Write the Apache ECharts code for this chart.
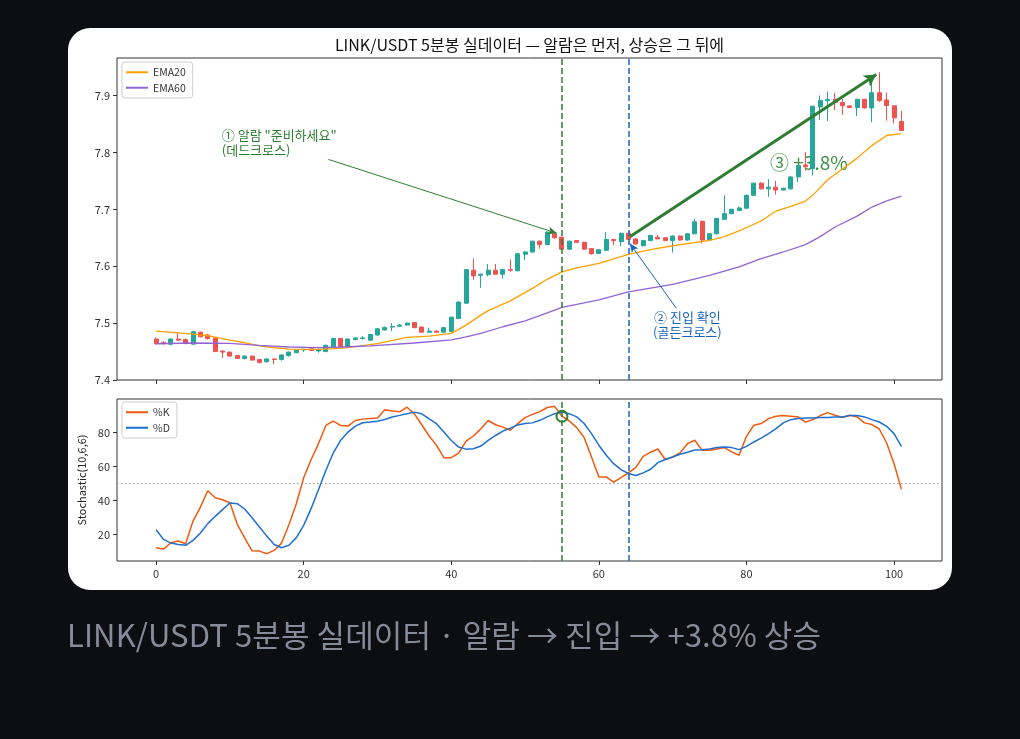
<!DOCTYPE html>
<html>
<head>
<meta charset="utf-8">
<script src="https://cdn.jsdelivr.net/npm/echarts@6/dist/echarts.min.js"></script>
<style>
  html, body { margin: 0; padding: 0; background: #0c0e11; }
  #card { position: absolute; left: 68px; top: 28px; width: 884px; height: 562px; background: #fff; border-radius: 22px; }
  #chart { position: absolute; left: 0; top: 0; width: 1020px; height: 739px; }
  #caption { position: absolute; left: 67px; top: 615px; font: 31px "Noto Sans CJK KR", sans-serif; line-height: 38px; color: #858b98; white-space: nowrap; letter-spacing: 0.1px; }
</style>
</head>
<body>
<div id="card"></div>
<div id="chart"></div>
<div id="caption">LINK/USDT 5분봉 실데이터 · 알람 → 진입 → +3.8% 상승</div>
<script>
const FONT = '"Noto Sans CJK KR", "Noto Sans", sans-serif'
const UP = '#26a69a'
const DOWN = '#ef5350'

// 5m candles, index 0..101
const opens = [7.472,7.466,7.463,7.472,7.471,7.463,7.484,7.479,7.474,7.451,
  7.449,7.443,7.438,7.442,7.436,7.432,7.437,7.436,7.443,7.448,
  7.453,7.455,7.451,7.450,7.458,7.473,7.458,7.471,7.473,7.470,
  7.479,7.488,7.493,7.4945,7.4965,7.501,7.493,7.484,7.486,7.484,
  7.485,7.508,7.535,7.593,7.584,7.585,7.593,7.586,7.594,7.592,
  7.621,7.625,7.644,7.638,7.657,7.651,7.630,7.645,7.642,7.631,
  7.6225,7.628,7.647,7.643,7.658,7.648,7.636,7.645,7.651,7.650,
  7.645,7.653,7.646,7.657,7.679,7.646,7.657,7.6825,7.6925,7.698,
  7.702,7.7246,7.746,7.736,7.739,7.734,7.736,7.757,7.778,7.7714,
  7.880,7.891,7.8935,7.8877,7.8818,7.879,7.8935,7.8783,7.905,7.8923,
  7.882,7.8544]
const closes = [7.464,7.464,7.472,7.470,7.464,7.485,7.476,7.473,7.450,7.449,
  7.442,7.438,7.442,7.435,7.431,7.437,7.436,7.444,7.449,7.453,
  7.454,7.452,7.453,7.461,7.473,7.458,7.472,7.474,7.474,7.480,
  7.490,7.4925,7.494,7.4965,7.500,7.492,7.484,7.486,7.484,7.492,
  7.5105,7.537,7.594,7.583,7.586,7.593,7.586,7.594,7.593,7.622,
  7.625,7.644,7.638,7.660,7.650,7.630,7.644,7.642,7.630,7.622,
  7.629,7.647,7.645,7.658,7.647,7.639,7.645,7.654,7.648,7.645,
  7.653,7.646,7.657,7.678,7.646,7.657,7.684,7.6924,7.700,7.7025,
  7.7246,7.746,7.736,7.739,7.734,7.737,7.757,7.777,7.775,7.8813,
  7.8912,7.8935,7.8877,7.882,7.879,7.8935,7.8783,7.905,7.8912,7.8825,
  7.8608,7.8386]
const lows = [7.462,7.462,7.461,7.469,7.463,7.462,7.475,7.471,7.449,7.439,
  7.441,7.437,7.436,7.434,7.429,7.431,7.428,7.434,7.441,7.447,
  7.449,7.451,7.448,7.449,7.457,7.457,7.457,7.470,7.471,7.469,
  7.478,7.487,7.486,7.494,7.496,7.491,7.483,7.483,7.483,7.483,
  7.484,7.507,7.534,7.576,7.562,7.582,7.585,7.578,7.590,7.591,
  7.611,7.624,7.631,7.637,7.648,7.629,7.628,7.641,7.629,7.620,
  7.621,7.627,7.637,7.635,7.646,7.638,7.635,7.644,7.648,7.644,
  7.624,7.645,7.645,7.656,7.640,7.645,7.656,7.682,7.691,7.697,
  7.701,7.724,7.735,7.722,7.726,7.733,7.735,7.748,7.768,7.7596,
  7.857,7.855,7.874,7.866,7.878,7.864,7.877,7.853,7.889,7.856,
  7.851,7.838]
const highs = [7.475,7.468,7.473,7.484,7.473,7.486,7.485,7.481,7.475,7.452,
  7.450,7.444,7.443,7.443,7.437,7.438,7.438,7.445,7.450,7.454,
  7.455,7.456,7.455,7.462,7.474,7.474,7.473,7.475,7.477,7.481,
  7.491,7.494,7.500,7.498,7.501,7.502,7.494,7.492,7.487,7.493,
  7.511,7.538,7.595,7.6135,7.587,7.604,7.604,7.595,7.612,7.623,
  7.627,7.645,7.645,7.661,7.660,7.652,7.645,7.646,7.643,7.632,
  7.630,7.660,7.648,7.659,7.659,7.649,7.646,7.655,7.655,7.651,
  7.654,7.654,7.658,7.683,7.680,7.658,7.685,7.7246,7.701,7.705,
  7.726,7.747,7.748,7.753,7.750,7.738,7.758,7.778,7.8006,7.882,
  7.900,7.907,7.905,7.894,7.883,7.894,7.894,7.929,7.941,7.905,
  7.883,7.873]

// EMA lines as [index, price]
const ema20 = [[0,7.486],[3,7.483],[5,7.4807],[7,7.4778],[8,7.4755],[10,7.470],[12,7.4655],
  [14,7.460],[16,7.4567],[18,7.4544],[20,7.4538],[22,7.454],[24,7.455],[26,7.457],[28,7.4605],
  [30,7.464],[34,7.4749],[37,7.477],[40,7.482],[41,7.489],[42,7.4965],[44,7.514],[45,7.522],
  [48,7.539],[51,7.561],[53,7.577],[55,7.590],[57,7.597],[60,7.605],[64,7.621],[67,7.629],
  [70,7.636],[75,7.6456],[77,7.652],[79,7.662],[82,7.6795],[84,7.697],[86,7.705],[88,7.7146],
  [89,7.725],[91,7.752],[93,7.771],[95,7.790],[97,7.812],[99,7.8298],[101,7.833]]
const ema60 = [[0,7.4637],[5,7.465],[10,7.4644],[14,7.461],[18,7.458],[22,7.457],[25,7.458],
  [29,7.460],[35,7.465],[40,7.4705],[42,7.476],[44,7.482],[47,7.4936],[50,7.504],[53,7.518],
  [55,7.5275],[60,7.541],[64,7.555],[70,7.568],[75,7.584],[79,7.5988],[82,7.6135],[85,7.625],
  [88,7.638],[90,7.652],[92,7.669],[95,7.688],[97,7.704],[99,7.715],[101,7.723]]

// Stochastic(10,6,6)
const stochK = [12.4,11.6,15.3,16.3,14.7,28.0,36.2,45.8,41.7,40.5,
  38.8,26.1,18.2,10.6,10.4,8.9,10.8,15.1,25.9,38.2,
  53.4,64.0,73.4,84.1,86.6,84.1,83.7,87.0,87.8,88.2,
  88.4,93.3,92.5,92.1,94.8,90.9,84.5,77.9,72.4,65.2,
  65.2,67.9,74.9,77.9,82.1,87.0,84.5,83.1,81.3,85.2,
  88.7,90.6,92.2,94.6,95.3,89.5,86.7,82.8,77.0,65.6,
  53.9,53.9,50.8,53.5,56.3,59.4,66.0,68.4,70.3,64.1,
  65.6,68.0,73.4,75.4,69.5,69.5,70.3,71.1,68.6,66.6,
  77.7,84.2,85.2,88.1,89.5,89.9,89.5,89.1,86.1,87.5,
  89.9,91.6,90.1,88.7,90.1,89.1,85.6,84.6,82.0,73.8,
  61.7,46.7]
const stochD = [22.9,17.3,15.1,14.3,13.8,16.7,21.0,26.5,30.8,34.7,
  38.6,38.2,35.1,30.0,24.5,19.2,14.3,12.4,13.8,18.3,
  25.5,35.3,46.4,57.7,67.9,75.3,80.2,83.7,85.7,86.1,
  86.6,87.6,89.0,90.0,90.9,91.9,90.9,88.0,85.1,80.2,
  75.3,71.4,70.2,70.4,72.0,75.3,78.2,80.8,82.5,84.4,
  85.2,85.6,87.1,89.1,91.0,92.0,91.0,89.1,85.2,79.3,
  72.5,66.6,61.7,58.2,55.9,54.7,56.3,58.4,62.3,64.1,
  65.6,67.2,68.4,69.7,69.9,70.3,71.1,71.5,71.1,69.9,
  71.8,74.4,76.7,79.3,82.2,85.6,87.5,88.1,88.5,88.5,
  88.7,88.7,89.1,89.1,89.9,89.9,89.1,87.5,86.1,83.6,
  79.3,71.8]

const xTicks = [0, 20, 40, 60, 80, 100]
const priceTicks = [7.4, 7.5, 7.6, 7.7, 7.8, 7.9]
const stochTicks = [20, 40, 60, 80]

const alarmIdx = 55
const entryIdx = 64
const crossPoint = [55, 89.5]
const alarmArrow = [[23.35, 7.7877], [54.3, 7.658]]
const entryArrow = [[70.5, 7.526], [64.2, 7.64]]
const gainArrow = [[64.2, 7.652], [97.6, 7.937]]
const alarmText = [8.9, 7.8167]
const entryText = [72.0, 7.4974]
const gainText = [83.2, 7.7825]

const GREEN = '#2e7d32'
const BLUE = '#1565c0'

const candles = opens.map((o, i) => [i, o, closes[i], lows[i], highs[i]])

const tickStyle = { lineStyle: { color: '#333', width: 1 }, length: 4 }
const labelStyle = { color: '#333', fontSize: 11, fontFamily: FONT }

function xAxisFor(grid, showLabel) {
  return {
    type: 'value', gridIndex: grid, min: -5.3, max: 106.5,
    axisLine: { show: false, onZero: false }, splitLine: { show: false },
    axisTick: Object.assign({ show: true, customValues: xTicks }, tickStyle),
    axisLabel: Object.assign({ show: showLabel, customValues: xTicks, margin: 7 }, labelStyle)
  }
}

const legendStyle = {
  orient: 'vertical', icon: 'rect', itemWidth: 22, itemHeight: 2, itemGap: 5,
  padding: [5, 7, 5, 4], borderColor: '#ccc', borderWidth: 1, borderRadius: 3,
  backgroundColor: 'rgba(255,255,255,0.85)',
  textStyle: { fontSize: 10.5, color: '#333', fontFamily: FONT }
}

const chart = echarts.init(document.getElementById('chart'), null, { renderer: 'canvas' })

chart.setOption({
  animation: false,
  textStyle: { fontFamily: FONT },
  graphic: [{
    type: 'text', x: 529.5, y: 45,
    style: {
      text: 'LINK/USDT 5분봉 실데이터 — 알람은 먼저, 상승은 그 뒤에',
      fill: '#111', fontSize: 16, fontFamily: FONT,
      textAlign: 'center', textVerticalAlign: 'middle', align: 'center', verticalAlign: 'middle'
    }
  }],
  grid: [
    { left: 117, right: 78, top: 58, height: 322, show: true, borderColor: '#333', borderWidth: 1, backgroundColor: 'transparent' },
    { left: 117, right: 78, top: 399, height: 162, show: true, borderColor: '#333', borderWidth: 1, backgroundColor: 'transparent' }
  ],
  legend: [
    Object.assign({ data: ['EMA20', 'EMA60'], left: 122, top: 62 }, legendStyle),
    Object.assign({ data: ['%K', '%D'], left: 122, top: 402 }, legendStyle)
  ],
  xAxis: [xAxisFor(0, false), xAxisFor(1, true)],
  yAxis: [
    {
      type: 'value', gridIndex: 0, min: 7.4, max: 7.966,
      axisLine: { show: false, onZero: false }, splitLine: { show: false },
      axisTick: Object.assign({ show: true, customValues: priceTicks }, tickStyle),
      axisLabel: Object.assign({ customValues: priceTicks, formatter: v => v.toFixed(1), margin: 7 }, labelStyle)
    },
    {
      type: 'value', gridIndex: 1, min: 4.6, max: 99.6,
      axisLine: { show: false, onZero: false }, splitLine: { show: false },
      axisTick: Object.assign({ show: true, customValues: stochTicks }, tickStyle),
      axisLabel: Object.assign({ customValues: stochTicks, margin: 7 }, labelStyle),
      name: 'Stochastic(10,6,6)', nameLocation: 'middle', nameGap: 28,
      nameTextStyle: { fontSize: 11, color: '#222', fontFamily: FONT }
    }
  ],
  series: [
    {
      type: 'candlestick', name: 'candles', xAxisIndex: 0, yAxisIndex: 0, z: 3,
      data: candles, encode: { x: 0, y: [1, 2, 3, 4] }, barWidth: 4.5,
      itemStyle: { color: UP, color0: DOWN, borderColor: UP, borderColor0: DOWN, borderWidth: 1 },
      silent: true
    },
    {
      type: 'line', name: 'EMA20', xAxisIndex: 0, yAxisIndex: 0, data: ema20,
      showSymbol: false, lineStyle: { color: '#ffa000', width: 1.3 }, itemStyle: { color: '#ffa000' }, z: 4
    },
    {
      type: 'line', name: 'EMA60', xAxisIndex: 0, yAxisIndex: 0, data: ema60,
      showSymbol: false, lineStyle: { color: '#9164d6', width: 1.3 }, itemStyle: { color: '#9164d6' }, z: 4
    },
    {
      // annotations on the price panel
      type: 'line', name: 'notes', xAxisIndex: 0, yAxisIndex: 0, data: [], silent: true,
      markLine: {
        silent: true, symbol: ['none', 'none'], label: { show: false }, animation: false,
        data: [
          { xAxis: alarmIdx, lineStyle: { color: GREEN, type: [6, 3], width: 1.5 } },
          { xAxis: entryIdx, lineStyle: { color: BLUE, type: [6, 3], width: 1.5 } },
          [{ coord: alarmArrow[0], symbol: 'none', lineStyle: { color: GREEN, width: 1, type: 'solid' } },
           { coord: alarmArrow[1], symbol: 'arrow', symbolSize: [6, 9] }],
          [{ coord: entryArrow[0], symbol: 'none', lineStyle: { color: BLUE, width: 1, type: 'solid' } },
           { coord: entryArrow[1], symbol: 'arrow', symbolSize: [6, 9] }],
          [{ coord: gainArrow[0], symbol: 'none', lineStyle: { color: GREEN, width: 3, type: 'solid' } },
           { coord: gainArrow[1], symbol: 'arrow', symbolSize: [10, 12] }]
        ]
      },
      markPoint: {
        z: 1, silent: true, symbol: 'circle', symbolSize: 0,
        data: [
          { coord: alarmText, label: { show: true, position: 'inside', align: 'left', verticalAlign: 'middle',
            formatter: '① 알람 "준비하세요"\n(데드크로스)', color: GREEN, fontSize: 13, lineHeight: 15, fontFamily: FONT } },
          { coord: entryText, label: { show: true, position: 'inside', align: 'center', verticalAlign: 'middle',
            formatter: '② 진입 확인\n(골든크로스)', color: BLUE, fontSize: 13, lineHeight: 15, fontFamily: FONT } },
          { coord: gainText, label: { show: true, position: 'inside', align: 'left', verticalAlign: 'middle',
            formatter: '③ +3.8%', color: '#3f8f43', fontSize: 19, fontFamily: FONT } }
        ]
      }
    },
    {
      type: 'line', name: '%K', xAxisIndex: 1, yAxisIndex: 1, data: stochK.map((v, i) => [i, v]),
      showSymbol: false, lineStyle: { color: '#f05a0e', width: 1.5 }, itemStyle: { color: '#f05a0e' }
    },
    {
      type: 'line', name: '%D', xAxisIndex: 1, yAxisIndex: 1, data: stochD.map((v, i) => [i, v]),
      showSymbol: false, lineStyle: { color: '#1f6fd0', width: 1.5 }, itemStyle: { color: '#1f6fd0' }
    },
    {
      type: 'line', name: 'stochNotes', xAxisIndex: 1, yAxisIndex: 1, data: [], silent: true,
      markLine: {
        silent: true, symbol: ['none', 'none'], label: { show: false },
        data: [
          { yAxis: 50, lineStyle: { color: '#999', type: [1.5, 2.5], width: 1 } },
          { xAxis: alarmIdx, lineStyle: { color: GREEN, type: [6, 3], width: 1.5 } },
          { xAxis: entryIdx, lineStyle: { color: BLUE, type: [6, 3], width: 1.5 } }
        ]
      },
      markPoint: {
        silent: true, symbol: 'circle', symbolSize: 11,
        itemStyle: { color: 'transparent', borderColor: GREEN, borderWidth: 2 },
        label: { show: false },
        data: [{ coord: crossPoint }]
      }
    }
  ]
})
</script>
</body>
</html>
